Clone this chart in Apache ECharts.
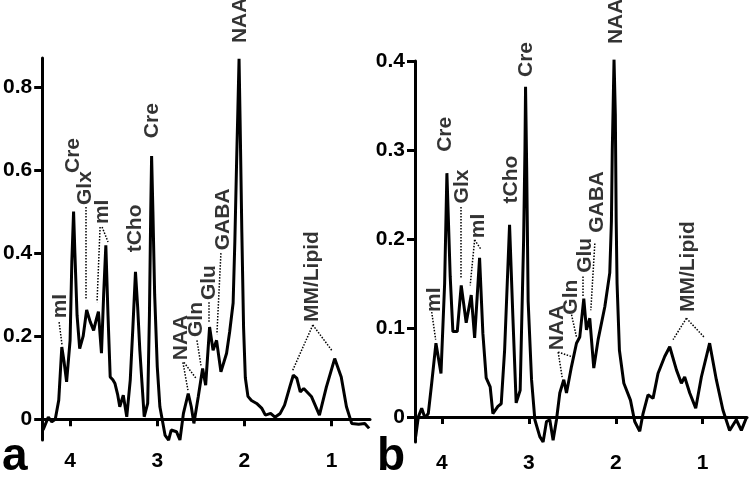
<!DOCTYPE html>
<html>
<head>
<meta charset="utf-8">
<script src="https://cdn.jsdelivr.net/npm/echarts@6/dist/echarts.min.js"></script>
<style>
html, body { margin: 0; padding: 0; background: #fff; }
#chart { width: 750px; height: 480px; }
</style>
</head>
<body>
<div id="chart"></div>
<script>
// chemical shift (ppm) and amplitude, panel a
const ppmA = [4.31, 4.25, 4.21, 4.17, 4.13, 4.095, 4.07, 4.04, 4.0, 3.98, 3.96, 3.945, 3.92, 3.89,
    3.85, 3.81, 3.77, 3.73, 3.70, 3.675, 3.655, 3.64, 3.615, 3.59, 3.565, 3.54, 3.51, 3.485, 3.455,
    3.43, 3.39, 3.35, 3.31, 3.28, 3.25, 3.225, 3.2, 3.15, 3.11, 3.09, 3.075, 3.065, 3.05, 3.03, 3.0,
    2.97, 2.91, 2.87, 2.84, 2.78, 2.74, 2.70, 2.645, 2.61, 2.58, 2.53, 2.48, 2.445, 2.40, 2.36, 2.32,
    2.27, 2.205, 2.17, 2.13, 2.11, 2.09, 2.075, 2.062, 2.05, 2.03, 2.01, 1.99, 1.96, 1.92, 1.86, 1.80,
    1.76, 1.70, 1.65, 1.59, 1.54, 1.48, 1.44, 1.40, 1.36, 1.32, 1.23, 1.14, 1.06, 0.965, 0.89, 0.83,
    0.77, 0.69, 0.62, 0.57];
const ampA = [-0.026, 0.005, -0.006, 0.0, 0.046, 0.174, 0.14, 0.09, 0.19, 0.38, 0.50, 0.40, 0.25, 0.17,
    0.20, 0.263, 0.235, 0.214, 0.24, 0.259, 0.20, 0.159, 0.30, 0.419, 0.25, 0.102, 0.095, 0.086, 0.06,
    0.03, 0.058, 0.006, 0.094, 0.22, 0.355, 0.27, 0.166, 0.006, 0.038, 0.25, 0.50, 0.634, 0.50, 0.30, 0.126,
    0.03, -0.039, -0.05, -0.026, -0.03, -0.05, 0.014, 0.062, 0.03, -0.01, 0.054, 0.122, 0.082, 0.222, 0.166, 0.19,
    0.114, 0.159, 0.21, 0.28, 0.43, 0.62, 0.75, 0.868, 0.72, 0.45, 0.22, 0.10, 0.055, 0.045, 0.038, 0.026,
    0.01, 0.014, 0.005, 0.014, 0.034, 0.078, 0.106, 0.099, 0.066, 0.074, 0.054, 0.01, 0.078, 0.146, 0.102, 0.03,
    -0.01, -0.012, -0.01, -0.022];

// panel b
const ppmB = [4.302, 4.272, 4.233, 4.195, 4.157, 4.118, 4.069, 4.011, 3.969, 3.943, 3.905, 3.874, 3.824,
    3.778, 3.721, 3.663, 3.624, 3.567, 3.529, 3.491, 3.445, 3.414, 3.356, 3.318, 3.279, 3.222, 3.184,
    3.146, 3.10, 3.06, 3.045, 3.038, 3.025, 3.008, 2.969, 2.931, 2.874, 2.836, 2.797, 2.759, 2.721,
    2.682, 2.644, 2.598, 2.567, 2.509, 2.452, 2.414, 2.368, 2.337, 2.299, 2.253, 2.203, 2.126, 2.069,
    2.05, 2.04, 2.03, 2.02, 2.005, 1.995, 1.985, 1.958, 1.907, 1.831, 1.782, 1.724, 1.686, 1.629,
    1.571, 1.514, 1.437, 1.379, 1.36, 1.302, 1.245, 1.207, 1.149, 1.08, 1.015, 0.92, 0.843, 0.767,
    0.69, 0.613, 0.555, 0.498];
const ampB = [-0.022, 0.0, 0.01, -0.001, 0.004, 0.038, 0.083, 0.049, 0.15, 0.274, 0.158, 0.096, 0.096,
    0.148, 0.106, 0.137, 0.089, 0.179, 0.094, 0.044, 0.034, 0.004, 0.012, 0.015, 0.075, 0.216, 0.113,
    0.016, 0.03, 0.20, 0.30, 0.371, 0.28, 0.13, 0.042, -0.003, -0.022, -0.028, -0.005, -0.003, -0.026,
    -0.003, 0.027, 0.042, 0.027, 0.057, 0.083, 0.09, 0.133, 0.098, 0.111, 0.055, 0.087, 0.124, 0.162,
    0.22, 0.30, 0.35, 0.402, 0.34, 0.22, 0.15, 0.075, 0.038, 0.019, -0.005, -0.016, 0.004, 0.025,
    0.021, 0.049, 0.068, 0.079, 0.081, 0.053, 0.038, 0.045, 0.027, 0.01, 0.045, 0.083, 0.042, 0.008,
    -0.015, -0.003, -0.015, -0.001];

// peak labels (anchor = foot of the rotated text, in ppm / amplitude)
const peakNamesA = ['mI', 'Cre', 'Glx', 'mI', 'tCho', 'Cre', 'NAA', 'NAA', 'Gln', 'Glu', 'GABA', 'MM/Lipid'];
const peakPpmA = [4.115, 3.966, 3.83, 3.633, 3.255, 3.061, 2.053, 2.729, 2.557, 2.408, 2.247, 1.228];
const peakAmpA = [0.243, 0.593, 0.516, 0.47, 0.402, 0.677, 0.906, 0.142, 0.198, 0.287, 0.407, 0.234];

const peakNamesB = ['mI', 'Cre', 'Glx', 'mI', 'tCho', 'Cre', 'NAA', 'NAA', 'Gln', 'Glu', 'GABA', 'MM/Lipid'];
const peakPpmB = [4.092, 3.966, 3.77, 3.586, 3.207, 3.034, 2.0, 2.678, 2.517, 2.356, 2.218, 1.172];
const peakAmpB = [0.118, 0.298, 0.240, 0.201, 0.240, 0.382, 0.419, 0.075, 0.115, 0.162, 0.207, 0.118];

// dotted leaders: [ppm1, amp1, ppm2, amp2]
const leadersA = [
    [4.126, 0.234, 4.092, 0.178],
    [3.817, 0.511, 3.817, 0.287],
    [3.656, 0.463, 3.691, 0.282],
    [3.633, 0.463, 3.565, 0.427],
    [2.706, 0.137, 2.648, 0.070],
    [2.694, 0.137, 2.557, 0.099],
    [2.545, 0.19, 2.499, 0.13],
    [2.408, 0.282, 2.408, 0.234],
    [2.27, 0.40, 2.316, 0.205],
    [1.216, 0.227, 1.446, 0.118],
    [1.216, 0.227, 0.999, 0.166]
];
const leadersB = [
    [4.118, 0.118, 4.072, 0.087],
    [3.778, 0.236, 3.778, 0.156],
    [3.624, 0.199, 3.675, 0.148],
    [3.624, 0.199, 3.548, 0.188],
    [2.663, 0.073, 2.617, 0.045],
    [2.663, 0.073, 2.509, 0.068],
    [2.509, 0.115, 2.452, 0.09],
    [2.376, 0.158, 2.376, 0.135],
    [2.241, 0.195, 2.287, 0.12],
    [1.187, 0.111, 1.341, 0.087],
    [1.187, 0.111, 0.976, 0.089]
];

const xTicks = [1, 2, 3, 4];
const yTicksA = [0, 0.2, 0.4, 0.6, 0.8];
const yTicksB = [0, 0.1, 0.2, 0.3, 0.4];

const font = '"Liberation Sans", Arial, sans-serif';

function makeX(idx, min, max) {
    return {
        type: 'value',
        gridIndex: idx,
        min: min,
        max: max,
        inverse: true,
        axisLine: { lineStyle: { color: '#000', width: 3 } },
        axisTick: { customValues: xTicks, length: 7, lineStyle: { color: '#000', width: 3 } },
        axisLabel: { customValues: xTicks, color: '#000', fontWeight: 'bold', fontSize: 21, fontFamily: font, margin: 11 },
        splitLine: { show: false }
    };
}
function makeY(idx, min, max, ticks) {
    return {
        type: 'value',
        gridIndex: idx,
        min: min,
        max: max,
        axisLine: { show: true, lineStyle: { color: '#000', width: 3 } },
        axisTick: { show: true, customValues: ticks, length: 8, lineStyle: { color: '#000', width: 3 } },
        axisLabel: { customValues: ticks, color: '#000', fontWeight: 'bold', fontSize: 21, fontFamily: font, margin: 10 },
        splitLine: { show: false }
    };
}
function spectrum(idx, ppm, amp, leaders) {
    return {
        type: 'line',
        xAxisIndex: idx,
        yAxisIndex: idx,
        data: ppm.map((p, i) => [p, amp[i]]),
        showSymbol: false,
        lineStyle: { color: '#000', width: 3 },
        markLine: {
            silent: true,
            symbol: 'none',
            label: { show: false },
            lineStyle: { type: 'dotted', color: '#000', width: 1.5 },
            data: leaders.map(l => [{ coord: [l[0], l[1]] }, { coord: [l[2], l[3]] }])
        }
    };
}
function peakLabels(idx, names, ppm, amp) {
    return {
        type: 'scatter',
        xAxisIndex: idx,
        yAxisIndex: idx,
        symbolSize: 0,
        clip: false,
        data: names.map((n, i) => ({ name: n, value: [ppm[i], amp[i]] })),
        label: {
            show: true,
            formatter: '{b}',
            position: 'inside',
            rotate: 90,
            align: 'left',
            verticalAlign: 'middle',
            color: '#000',
            fontWeight: 'bold',
            fontSize: 21,
            fontFamily: font
        }
    };
}

var myChart = echarts.init(document.getElementById('chart'));
myChart.setOption({
    animation: false,
    backgroundColor: '#fff',
    grid: [
        { left: 42, right: 380, top: 58, bottom: 40 },
        { left: 415, right: 3, top: 61, bottom: 38 }
    ],
    xAxis: [makeX(0, 0.56, 4.32), makeX(1, 0.49, 4.31)],
    yAxis: [makeY(0, -0.05, 0.87, yTicksA), makeY(1, -0.028, 0.4, yTicksB)],
    series: [
        spectrum(0, ppmA, ampA, leadersA),
        spectrum(1, ppmB, ampB, leadersB),
        peakLabels(0, peakNamesA, peakPpmA, peakAmpA),
        peakLabels(1, peakNamesB, peakPpmB, peakAmpB)
    ],
    graphic: [
        { type: 'text', left: 2, top: 434, style: { text: 'a', font: 'bold 46px ' + font, fill: '#000' } },
        { type: 'text', left: 377, top: 434, style: { text: 'b', font: 'bold 46px ' + font, fill: '#000' } }
    ]
});
</script>
</body>
</html>
